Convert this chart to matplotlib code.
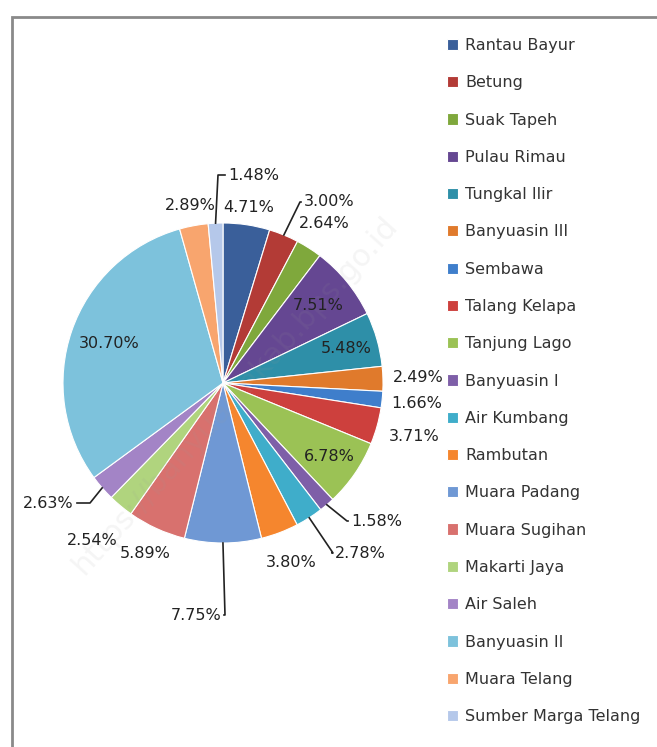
import numpy as np
import matplotlib
matplotlib.use("Agg")
import matplotlib.pyplot as plt
from matplotlib.patches import Rectangle

plt.rcParams['font.family'] = ['DejaVu Sans']

# Share per kecamatan (%)
kecamatan = ["Rantau Bayur", "Betung", "Suak Tapeh", "Pulau Rimau", "Tungkal Ilir",
             "Banyuasin III", "Sembawa", "Talang Kelapa", "Tanjung Lago", "Banyuasin I",
             "Air Kumbang", "Rambutan", "Muara Padang", "Muara Sugihan", "Makarti Jaya",
             "Air Saleh", "Banyuasin II", "Muara Telang", "Sumber Marga Telang"]
persen = [4.71, 3.00, 2.64, 7.51, 5.48, 2.49, 1.66, 3.71, 6.78, 1.58,
          2.78, 3.80, 7.75, 5.89, 2.54, 2.63, 30.70, 2.89, 1.48]
warna = ["#3a5f9a", "#b33b36", "#7fa83c", "#654792", "#2e8fa8", "#e07a2c",
         "#3f7ecb", "#cd403d", "#9bc255", "#7e5fa8", "#3fadca", "#f5862e",
         "#6f98d4", "#d8716e", "#b0d47e", "#a384c6", "#7dc2dc", "#f8a56e", "#b5c8ea"]

# label radius (fraction of pie radius) for labels without a leader line
label_r = [1.11, None, 1.18, 0.77, 0.80, 1.22, 1.22, 1.24, 0.81, None,
           None, 1.20, None, 1.17, 1.28, None, 0.75, 1.13, None]
# leader lines: index -> (elbow x, elbow y, text x, text y, ha), pixel coords from top-left
leaders = {
    1: (300, 202, 304, 202, "left"),
    9: (347, 521, 351, 521, "left"),
    10: (333, 553, 335, 553, "left"),
    12: (225, 615, 221, 615, "right"),
    15: (90, 503, 74, 503, "right"),
    18: (218, 175, 228, 175, "left"),
}

W, H = 657, 747
cx, cy, R = 223, 383, 160

fig = plt.figure(figsize=(W / 100, H / 100), dpi=100)
ax = fig.add_axes([0, 0, 1, 1])
ax.set_xlim(0, W)
ax.set_ylim(0, H)
ax.axis("off")

wedges, _ = ax.pie(persen, colors=warna, startangle=90, counterclock=False,
                   center=(cx, H - cy), radius=R,
                   wedgeprops=dict(edgecolor="white", linewidth=0.8))
ax.set_xlim(0, W)
ax.set_ylim(0, H)

txt_kw = dict(fontsize=11.5, color="#222222", va="center", zorder=6)
for i, w in enumerate(wedges):
    ang = np.deg2rad((w.theta1 + w.theta2) / 2)
    label = f"{persen[i]:.2f}%"
    if i in leaders:
        ex, ey, tx, ty, ha = leaders[i]
        px, py = cx + R * np.cos(ang), (H - cy) + R * np.sin(ang)
        end_x = tx - 3 if ha == "left" else tx + 3
        ax.plot([px, ex, end_x], [py, H - ey, H - ty], color="#222222", lw=1.2, zorder=6)
        ax.text(tx, H - ty, label, ha=ha, **txt_kw)
    else:
        r = label_r[i] * R
        ax.text(cx + r * np.cos(ang), (H - cy) + r * np.sin(ang), label,
                ha="center", **txt_kw)

# faint watermark across the pie
ax.text(235, H - 395, "https://banyuasinkab.bps.go.id", rotation=48, fontsize=22,
        color="#9a9a9a", alpha=0.1, ha="center", va="center", zorder=4)

leg = ax.legend(wedges, kecamatan, loc="upper left", bbox_to_anchor=(447 / W, 1 - 38 / H),
                bbox_transform=fig.transFigure, frameon=False, fontsize=11.5,
                handlelength=0.7, handleheight=0.7, handletextpad=0.45,
                labelspacing=1.395, borderaxespad=0, borderpad=0)
for t in leg.get_texts():
    t.set_color("#333333")

# chart frame (right and bottom sides fall outside the image)
ax.add_patch(Rectangle((12, -20), W + 20, H - 17 + 20, fill=False,
                       edgecolor="#8a8a8a", linewidth=2, clip_on=False))

fig.savefig("out.png", dpi=100)
